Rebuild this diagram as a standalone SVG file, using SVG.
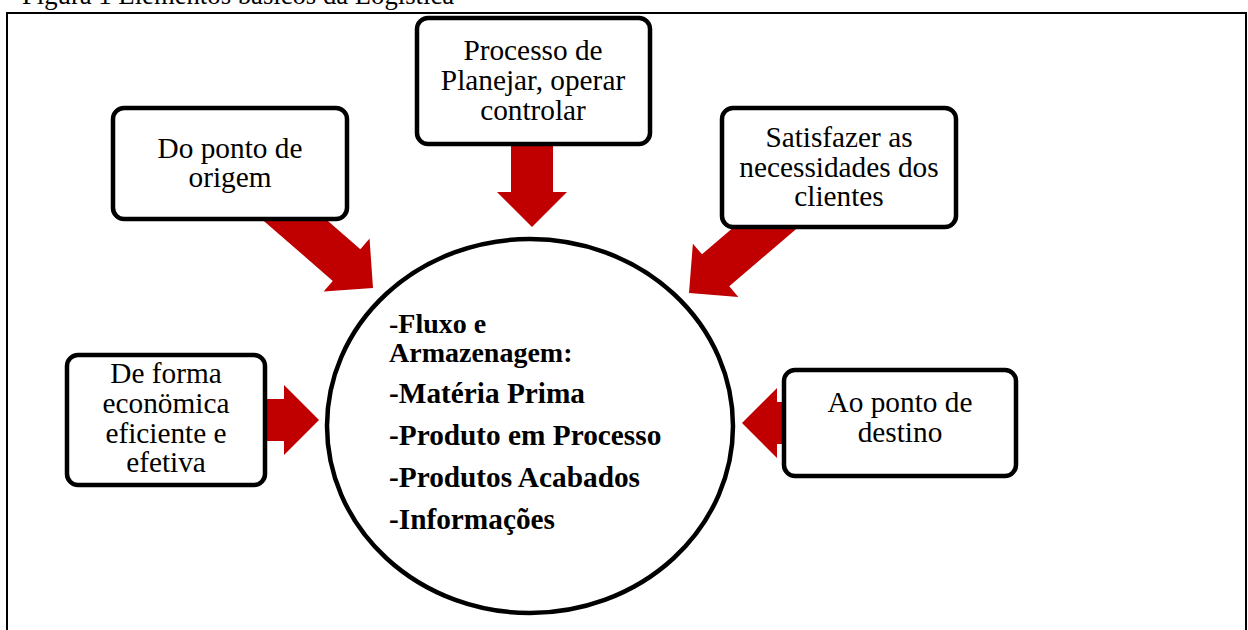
<svg xmlns="http://www.w3.org/2000/svg" width="1248" height="630" viewBox="0 0 1248 630">
<style>
.frame{fill:none;stroke:#000;stroke-width:2}
.box{fill:#fff;stroke:#000;stroke-width:4.5}
.circ{fill:#fff;stroke:#000;stroke-width:4.5}
.arr{fill:#C00000}
.t{font-family:"Liberation Serif","Times New Roman",serif;font-size:29.3px;fill:#000;text-anchor:middle}
.b{font-family:"Liberation Serif","Times New Roman",serif;font-weight:bold;fill:#000}
.title{font-family:"Liberation Serif","Times New Roman",serif;font-size:26.7px;fill:#000}
</style>
<defs>
<polygon id="ah" points="0,0 -35,-35 -35,-21 -140,-21 -140,21 -35,21 -35,35"/>
</defs>
<rect width="1248" height="630" fill="#fff"/>
<text class="title" x="22" y="4">Figura 1 Elementos básicos da Logística</text>
<rect class="frame" x="7" y="13" width="1239" height="700"/>
<g id="connectors">
<use href="#ah" class="arr" transform="translate(373,288) rotate(41)"/>
<use href="#ah" class="arr" transform="translate(532,227) rotate(90)"/>
<use href="#ah" class="arr" transform="translate(689,293) rotate(139.5)"/>
<use href="#ah" class="arr" transform="translate(319,420)"/>
<use href="#ah" class="arr" transform="translate(742,423) rotate(180)"/>
</g>
<g id="node-origem">
<rect class="box" x="113" y="108" width="234" height="111" rx="11"/>
<text class="t" x="230" y="158">Do ponto de</text>
<text class="t" x="230" y="187">origem</text>
</g>
<g id="node-processo">
<rect class="box" x="417" y="18" width="233" height="126" rx="11"/>
<text class="t" x="533" y="60">Processo de</text>
<text class="t" x="533" y="90">Planejar, operar</text>
<text class="t" x="533" y="120">controlar</text>
</g>
<g id="node-satisfazer">
<rect class="box" x="722" y="108" width="234" height="119" rx="11"/>
<text class="t" x="839" y="147">Satisfazer as</text>
<text class="t" x="839" y="176.5">necessidades dos</text>
<text class="t" x="839" y="206">clientes</text>
</g>
<g id="node-forma">
<rect class="box" x="67" y="355" width="198" height="130" rx="11"/>
<text class="t" x="166" y="383">De forma</text>
<text class="t" x="166" y="413">econömica</text>
<text class="t" x="166" y="443">eficiente e</text>
<text class="t" x="166" y="472">efetiva</text>
</g>
<g id="node-destino">
<rect class="box" x="784" y="370" width="232" height="106" rx="11"/>
<text class="t" x="900" y="412">Ao ponto de</text>
<text class="t" x="900" y="442">destino</text>
</g>
<g id="node-centro">
<ellipse class="circ" cx="530" cy="426" rx="203" ry="187"/>
<text class="b" x="389" y="333" font-size="28px">-Fluxo e</text>
<text class="b" x="389" y="362" font-size="28px">Armazenagem:</text>
<text class="b" x="389" y="403" font-size="29.3px">-Matéria Prima</text>
<text class="b" x="389" y="445" font-size="29.3px">-Produto em Processo</text>
<text class="b" x="389" y="487" font-size="29.3px">-Produtos Acabados</text>
<text class="b" x="389" y="529" font-size="29.3px">-Informações</text>
</g>
</svg>
